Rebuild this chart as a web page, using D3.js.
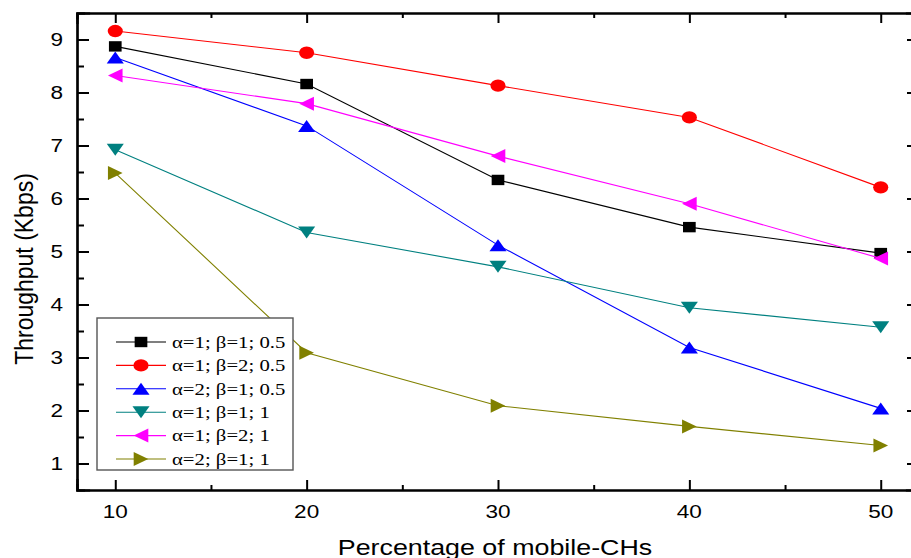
<!DOCTYPE html>
<html>
<head>
<meta charset="utf-8">
<script src="https://cdn.jsdelivr.net/npm/d3@7"></script>
<style>
  html, body { margin: 0; padding: 0; background: #fff; }
  svg { display: block; }
</style>
</head>
<body>
<svg id="chart" width="911" height="558"></svg>
<script>
// Percentage of mobile cluster heads on the x axis
const xValues = [10, 20, 30, 40, 50];
const xTickValues = [10, 20, 30, 40, 50];
const yTickValues = [1, 2, 3, 4, 5, 6, 7, 8, 9];

// Throughput (Kbps) per parameter setting
const seriesNames = [
  "α=1; β=1; 0.5",
  "α=1; β=2; 0.5",
  "α=2; β=1; 0.5",
  "α=1; β=1; 1",
  "α=1; β=2; 1",
  "α=2; β=1; 1"
];
const a1b1h = [8.87, 8.16, 6.35, 5.46, 4.97];
const a1b2h = [9.16, 8.75, 8.13, 7.53, 6.21];
const a2b1h = [8.66, 7.37, 5.12, 3.19, 2.04];
const a1b1f = [6.92, 5.36, 4.71, 3.94, 3.57];
const a1b2f = [8.32, 7.79, 6.80, 5.90, 4.87];
const a2b1f = [6.48, 3.09, 2.09, 1.70, 1.34];
const seriesValues = [a1b1h, a1b2h, a2b1h, a1b1f, a1b2f, a2b1f];
const seriesColors = ["#000000", "#ff0000", "#0000ff", "#008080", "#ff00ff", "#808000"];
const seriesShapes = ["square", "circle", "up", "down", "left", "right"];

const svg = d3.select("#chart");
const SX = 1.22; // horizontal stretch applied to glyphs and markers

const plot = { left: 77, right: 919, top: 13, bottom: 490 };
const x = d3.scaleLinear().domain([8, 52]).range([plot.left, plot.right]);
const y = d3.scaleLinear().domain([0.5, 9.5]).range([plot.bottom, plot.top]);

const fontSans = "'Liberation Sans', Arial, sans-serif";
const fontSerif = "'Liberation Serif', 'Times New Roman', serif";

// marker outlines, centred on the point
function markerPath(shape) {
  switch (shape) {
    case "square": return "M-5.2,-5.2H5.2V5.2H-5.2Z";
    case "circle": return d3.symbol(d3.symbolCircle, Math.PI * 6.2 * 6.2)();
    case "up": return "M0,-6L7,6L-7,6Z";
    case "down": return "M0,6L7,-6L-7,-6Z";
    case "left": return "M-6,0L6,-7L6,7Z";
    case "right": return "M6,0L-6,-7L-6,7Z";
  }
}

// ---- axes: minor + major ticks pointing inward ----
const xMinor = [15, 25, 35, 45];
const yMinor = d3.range(1.5, 9.0, 1);

const axisG = svg.append("g");

const bottomAxis = d3.axisBottom(x).tickValues(xTickValues).tickSize(-10).tickFormat("");
const bottomMinor = d3.axisBottom(x).tickValues(xMinor).tickSize(-5).tickFormat("");
const topAxis = d3.axisTop(x).tickValues(xTickValues).tickSize(-10).tickFormat("");
const topMinor = d3.axisTop(x).tickValues(xMinor).tickSize(-5).tickFormat("");
const leftAxis = d3.axisLeft(y).tickValues(yTickValues).tickSize(-12).tickFormat("");
const leftMinor = d3.axisLeft(y).tickValues(yMinor).tickSize(-7).tickFormat("");
const rightAxis = d3.axisRight(y).tickValues(yTickValues).tickSize(-12).tickFormat("");
const rightMinor = d3.axisRight(y).tickValues(yMinor).tickSize(-7).tickFormat("");

function styleAxis(g) {
  g.selectAll("path").attr("stroke", "#000").attr("stroke-width", 2.2);
  g.selectAll("line").attr("stroke", "#000").attr("stroke-width", 2);
}

axisG.append("g").attr("transform", `translate(0,${plot.bottom})`).call(bottomAxis).call(styleAxis);
axisG.append("g").attr("transform", `translate(0,${plot.bottom})`).call(bottomMinor).call(styleAxis);
axisG.append("g").attr("transform", `translate(0,${plot.top})`).call(topAxis).call(styleAxis);
axisG.append("g").attr("transform", `translate(0,${plot.top})`).call(topMinor).call(styleAxis);
axisG.append("g").attr("transform", `translate(${plot.left},0)`).call(leftAxis).call(styleAxis);
axisG.append("g").attr("transform", `translate(${plot.left},0)`).call(leftMinor).call(styleAxis);
axisG.append("g").attr("transform", `translate(${plot.right},0)`).call(rightAxis).call(styleAxis);
axisG.append("g").attr("transform", `translate(${plot.right},0)`).call(rightMinor).call(styleAxis);
axisG.selectAll("path.domain").attr("stroke-linecap", "square");

// tick labels
const labelG = svg.append("g").attr("font-family", fontSans).attr("font-size", 18.5).attr("fill", "#000");
labelG.selectAll("text.xl").data(xTickValues).join("text")
  .attr("class", "xl")
  .attr("text-anchor", "middle")
  .attr("transform", d => `translate(${x(d)},518) scale(${SX},1)`)
  .text(d => d);
labelG.selectAll("text.yl").data(yTickValues).join("text")
  .attr("class", "yl")
  .attr("text-anchor", "end")
  .attr("transform", d => `translate(63,${y(d) + 6.7}) scale(${SX},1)`)
  .text(d => d);

// axis titles
svg.append("text")
  .attr("font-family", fontSans).attr("font-size", 22)
  .attr("text-anchor", "middle")
  .attr("transform", `translate(495,555) scale(${SX},1)`)
  .text("Percentage of mobile-CHs");
svg.append("text")
  .attr("font-family", fontSans).attr("font-size", 23)
  .attr("text-anchor", "middle")
  .attr("transform", `translate(33,269) scale(1.12,1) rotate(-90)`)
  .text("Throughput (Kbps)");

// ---- series ----
const line = d3.line().x((d, i) => x(xValues[i])).y(d => y(d));
const dataG = svg.append("g");
seriesValues.forEach((vals, s) => {
  const g = dataG.append("g");
  g.append("path")
    .attr("d", line(vals))
    .attr("fill", "none")
    .attr("stroke", seriesColors[s])
    .attr("stroke-width", 1.1);
  g.selectAll("path.mk").data(vals).join("path")
    .attr("class", "mk")
    .attr("d", markerPath(seriesShapes[s]))
    .attr("transform", (d, i) => `translate(${x(xValues[i])},${y(d)}) scale(${SX},1)`)
    .attr("fill", seriesColors[s]);
});

// ---- legend ----
const legend = svg.append("g");
legend.append("rect")
  .attr("x", 97).attr("y", 318).attr("width", 196).attr("height", 152)
  .attr("fill", "#fff").attr("stroke", "#555").attr("stroke-width", 1.4);
const rowY = d3.scaleLinear().domain([0, 5]).range([342, 459]);
seriesNames.forEach((name, s) => {
  const ry = rowY(s);
  legend.append("line")
    .attr("x1", 116).attr("x2", 166).attr("y1", ry).attr("y2", ry)
    .attr("stroke", seriesColors[s]).attr("stroke-width", 1.1);
  legend.append("path")
    .attr("d", markerPath(seriesShapes[s]))
    .attr("transform", `translate(141,${ry}) scale(${SX},1)`)
    .attr("fill", seriesColors[s]);
  legend.append("text")
    .attr("font-family", fontSerif).attr("font-size", 17)
    .attr("transform", `translate(172,${ry + 5.8}) scale(${SX},1)`)
    .text(name);
});
</script>
</body>
</html>
